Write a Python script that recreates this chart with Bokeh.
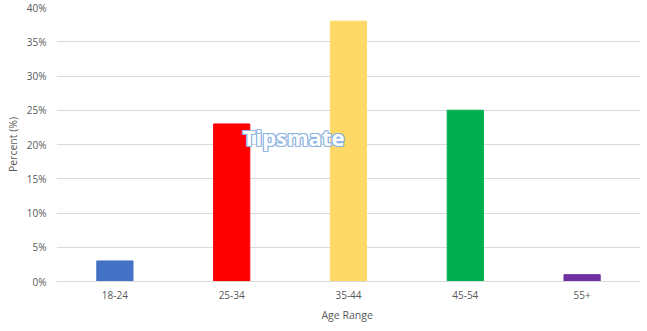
from bokeh.plotting import figure
from bokeh.models import ColumnDataSource, Range1d, FactorRange, PrintfTickFormatter, FixedTicker
from bokeh.core.properties import value
from bokeh.embed import file_html
from bokeh.resources import INLINE

categories = ["18-24", "25-34", "35-44", "45-54", "55+"]
percents = [3, 23, 38, 25, 1]
colors = ["#4472C4", "#FF0000", "#FFD966", "#00B050", "#7030A0"]
y_ticks = [0, 5, 10, 15, 20, 25, 30, 35, 40]
watermark = "Tipsmate"

src = ColumnDataSource(dict(cat=categories, val=percents, color=colors))

p = figure(width=647, height=331, x_range=FactorRange(*categories, range_padding=0),
           y_range=Range1d(0, 40), output_backend="svg", toolbar_location=None,
           min_border_left=56, min_border_right=7, min_border_top=7, min_border_bottom=50)
p.outline_line_color = None
p.background_fill_color = "white"

p.vbar(x="cat", top="val", width=0.31, color="color", source=src)

p.yaxis.ticker = FixedTicker(ticks=y_ticks)
p.yaxis.formatter = PrintfTickFormatter(format="%d%%")
p.yaxis.axis_line_color = None
p.yaxis.major_tick_line_color = None
p.yaxis.minor_tick_line_color = None
p.xaxis.axis_line_color = "#d9d9d9"
p.xaxis.major_tick_line_color = None
p.xaxis.minor_tick_line_color = None
for ax in (p.xaxis, p.yaxis):
    ax.major_label_text_font = "Open Sans"
    ax.major_label_text_font_size = "10px"
    ax.major_label_text_color = "#595959"
    ax.axis_label_text_font = "Open Sans"
    ax.axis_label_text_font_size = "10.5px"
    ax.axis_label_text_color = "#595959"
    ax.axis_label_text_font_style = "normal"
p.yaxis.axis_label = "Percent (%)"
p.xaxis.axis_label = "Age  Range"
p.yaxis.major_label_standoff = 10
p.xaxis.major_label_standoff = 9
p.xaxis.axis_label_standoff = 6
p.yaxis.axis_label_standoff = 4
p.yaxis.major_tick_out = 0
p.xaxis.major_tick_out = 0

p.xgrid.grid_line_color = None
p.ygrid.grid_line_color = "#d9d9d9"
p.ygrid.ticker = FixedTicker(ticks=y_ticks)

wm = ColumnDataSource(dict(x=["25-34"], y=[21.1], t=[watermark]))
for dx, dy in [(-1, 0), (1, 0), (0, -1), (0, 1), (1, 1), (-1, -1), (1, -1), (-1, 1)]:
    p.text(x="x", y="y", text="t", source=wm, x_offset=dx + 11, y_offset=dy,
           text_font=value("Open Sans"), text_font_size="22px", text_font_style="bold",
           text_color="#8DB4E2", text_align="left", text_baseline="middle")
p.text(x="x", y="y", text="t", source=wm, x_offset=11,
       text_font=value("Open Sans"), text_font_size="22px", text_font_style="bold",
       text_color="white", text_align="left", text_baseline="middle")

open("out.html", "w").write(file_html(p, INLINE))
